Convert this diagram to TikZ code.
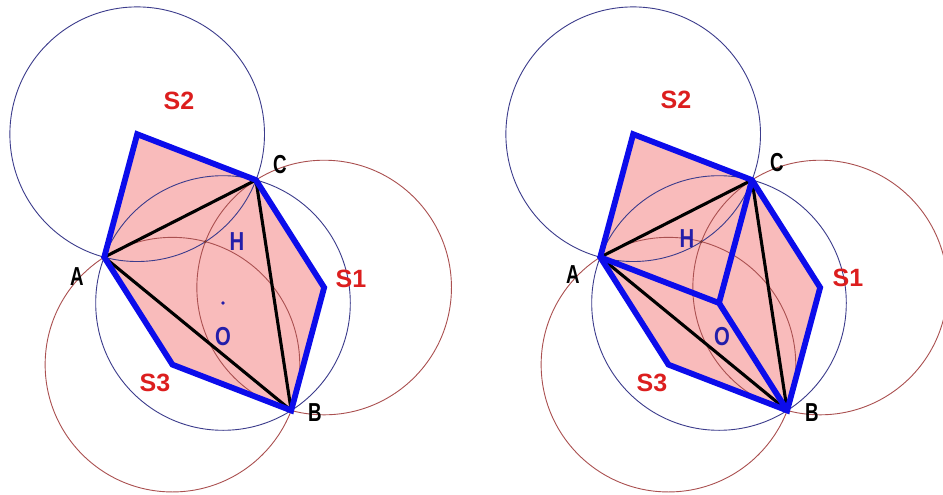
\documentclass[tikz,border=0pt]{standalone}
\usepackage{fontspec}
\setmainfont{Liberation Sans}
\usetikzlibrary{calc}
\definecolor{pinkfill}{RGB}{249,187,187}
\definecolor{hexblue}{RGB}{12,12,235}
\definecolor{circblue}{RGB}{60,60,140}
\definecolor{circred}{RGB}{170,80,80}
\definecolor{lblred}{RGB}{220,30,30}
\definecolor{lblblue}{RGB}{35,30,170}
\tikzset{
  hexline/.style={draw=hexblue, line width=5.8pt},
  triline/.style={draw=black, line width=3.1pt},
  bluecirc/.style={draw=circblue, line width=0.9pt},
  redcirc/.style={draw=circred, line width=0.9pt},
  redlbl/.style={text=lblred, inner sep=0pt, font=\bfseries\fontsize{25}{25}\selectfont},
  bluelbl/.style={text=lblblue, inner sep=0pt, xscale=0.78, font=\bfseries\fontsize{26}{26}\selectfont},
  vlbl/.style={text=black, inner sep=0pt, xscale=0.72, font=\bfseries\fontsize{26}{26}\selectfont},
}
% #1 prefix, #2 x position of circumcenter
\newcommand\geompanel[2]{%
  \coordinate (#1O) at (#2,303);
  \path (#1O) ++(201.1:127.3) coordinate (#1A);
  \path (#1O) ++(57.6:127.3) coordinate (#1B);
  \path (#1O) ++(285.0:127.3) coordinate (#1C);
  \coordinate (#1P) at ($(#1B)+(#1C)-(#1O)$);
  \coordinate (#1Q) at ($(#1A)+(#1C)-(#1O)$);
  \coordinate (#1R) at ($(#1A)+(#1B)-(#1O)$);
  \coordinate (#1H) at ($(#1A)+(#1B)+(#1C)-2*(#1O)$);
  \fill[pinkfill] (#1A) -- (#1Q) -- (#1C) -- (#1P) -- (#1B) -- (#1R) -- cycle;
  \draw[bluecirc] (#1O) circle[radius=127.3pt];
  \draw[bluecirc] (#1Q) circle[radius=127.3pt];
  \draw[redcirc] (#1P) circle[radius=127.3pt];
  \draw[redcirc] (#1R) circle[radius=127.3pt];
  \fill[circred!70!black] (#1H) circle[radius=1.6pt];
  \draw[triline] (#1A) -- (#1B) -- (#1C) -- cycle;
  \draw[hexline] (#1A) -- (#1Q) -- (#1C) -- (#1P) -- (#1B) -- (#1R) -- cycle;
}
\begin{document}
\begin{tikzpicture}[x=1pt,y=-1pt]
\useasboundingbox (0,0) rectangle (943,495);
\clip (0,0) rectangle (943,495);
\fill[white] (0,0) rectangle (943,495);
% left panel
\geompanel{L}{223}
\fill[lblblue] (LO) circle[radius=1.8pt];
\node[redlbl] (lS2) at (179,101) {S2};
\node[vlbl] (lC) at (280,165) {C};
\node[bluelbl] (lH) at (237,242) {H};
\node[vlbl] (lA) at (77,277) {A};
\node[redlbl] (lS1) at (351,279) {S1};
\node[bluelbl] (lOl) at (223,337) {O};
\node[redlbl] (lS3) at (155,383) {S3};
\node[vlbl] (lB) at (315,413) {B};
% right panel
\geompanel{R}{719}
\draw[hexline] (RA) -- (RO) -- (RB);
\draw[hexline] (RO) -- (RC);
\node[redlbl] (rS2) at (676,100) {S2};
\node[vlbl] (rC) at (777,163) {C};
\node[bluelbl] (rH) at (687,239) {H};
\node[vlbl] (rA) at (573,275) {A};
\node[redlbl] (rS1) at (848,278) {S1};
\node[bluelbl] (rOl) at (722,337) {O};
\node[redlbl] (rS3) at (652,383) {S3};
\node[vlbl] (rB) at (812,413) {B};
\end{tikzpicture}
\end{document}
